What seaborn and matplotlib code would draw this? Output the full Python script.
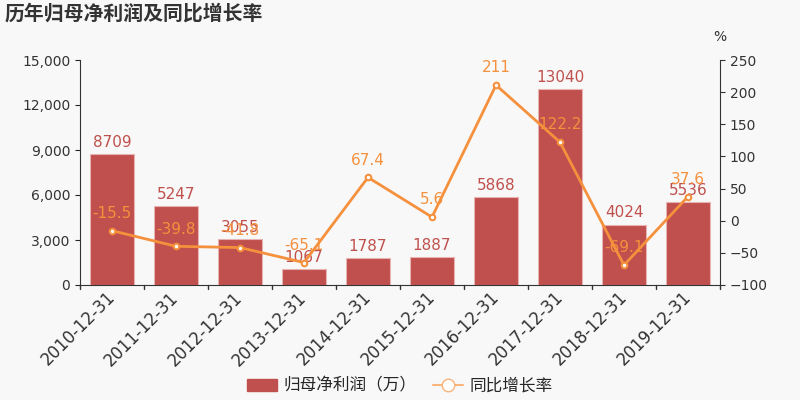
import matplotlib
matplotlib.use("Agg")
import matplotlib.pyplot as plt
import seaborn as sns
import pandas as pd
from matplotlib.patches import Patch
from matplotlib.lines import Line2D

# data
dates = ["2010-12-31", "2011-12-31", "2012-12-31", "2013-12-31", "2014-12-31",
         "2015-12-31", "2016-12-31", "2017-12-31", "2018-12-31", "2019-12-31"]
profit = [8709, 5247, 3055, 1067, 1787, 1887, 5868, 13040, 4024, 5536]
growth = [-15.5, -39.8, -41.8, -65.1, 67.4, 5.6, 211, 122.2, -69.1, 37.6]
growth_labels = ["-15.5", "-39.8", "-41.8", "-65.1", "67.4", "5.6", "211", "122.2", "-69.1", "37.6"]

bar_color = "#c0504d"
line_color = "#f5903d"
bg = "#f8f8f8"

sns.set_style("ticks")
plt.rcParams["font.family"] = ["DejaVu Sans", "Noto Sans CJK SC"]

df = pd.DataFrame({"date": dates, "profit": profit, "growth": growth})

fig = plt.figure(figsize=(8, 4), dpi=100, facecolor=bg)
ax = fig.add_axes([0.1, 0.2875, 0.8, 0.5625])
ax.set_facecolor(bg)

sns.barplot(data=df, x="date", y="profit", color=bar_color, width=0.7,
            saturation=1, edgecolor="#e8b4b3", linewidth=0.8, ax=ax)
ax.set_ylim(0, 15000)
ax.set_yticks(range(0, 15001, 3000))
ax.set_yticklabels([f"{v:,}" for v in range(0, 15001, 3000)], fontsize=10, color="#333333")
ax.set_xlabel("")
ax.set_ylabel("")
ax.set_xticks([i for i in range(len(dates))])
ax.set_xticklabels(dates, rotation=45, ha="right", va="center", rotation_mode="anchor",
                   fontsize=12, color="#333333")
ax.tick_params(axis="x", length=0, pad=7)
for i in range(len(dates) + 1):
    ax.plot([i - 0.5, i - 0.5], [0, -250], color="#333333", lw=1, clip_on=False)
ax.set_xlim(-0.5, len(dates) - 0.5)
for c in ax.containers:
    ax.bar_label(c, labels=[str(v) for v in profit], padding=3, fontsize=11, color=bar_color)
for s in ["top", "right"]:
    ax.spines[s].set_visible(False)
for s in ["left", "bottom"]:
    ax.spines[s].set_color("#333333")

ax2 = ax.twinx()
sns.pointplot(data=df, x="date", y="growth", color=line_color, markers="o",
              markersize=4, linewidth=2, markerfacecolor="white",
              markeredgecolor=line_color, ax=ax2)
ax2.set_xlim(-0.5, len(dates) - 0.5)
ax2.set_ylim(-100, 250)
ax2.set_yticks(range(-100, 251, 50))
ax2.tick_params(axis="y", labelsize=10, colors="#333333")
ax2.set_ylabel("")
ax2.set_xlabel("")
for s in ["top", "left", "bottom"]:
    ax2.spines[s].set_visible(False)
ax2.spines["right"].set_color("#333333")
for i, (g, lab) in enumerate(zip(growth, growth_labels)):
    ax2.annotate(lab, (i, g), xytext=(0, 7), textcoords="offset points",
                 ha="center", va="bottom", fontsize=11, color=line_color)
ax2.text(1.0, 1.07, "%", transform=ax2.transAxes, ha="center", va="bottom",
         fontsize=10, color="#333333")

fig.text(0.006, 0.967, "历年归母净利润及同比增长率", fontsize=14.3, fontweight="bold",
         color="#333333", ha="left", va="center", family=["Noto Sans CJK SC", "DejaVu Sans"])

handles = [Patch(facecolor=bar_color, edgecolor=bar_color),
           Line2D([0], [0], color="#f9b47c", lw=1.5, marker="o", markersize=9,
                  markerfacecolor="white", markeredgecolor="#f9b47c")]
fig.legend(handles, ["归母净利润（万）", "同比增长率"], loc="center",
           bbox_to_anchor=(0.5, 0.035), ncol=2, frameon=False,
           handlelength=1.8, columnspacing=1.0, handletextpad=0.4,
           prop={"family": ["Noto Sans CJK SC", "DejaVu Sans"], "size": 12})

fig.savefig("out.png", dpi=100, facecolor=bg)
